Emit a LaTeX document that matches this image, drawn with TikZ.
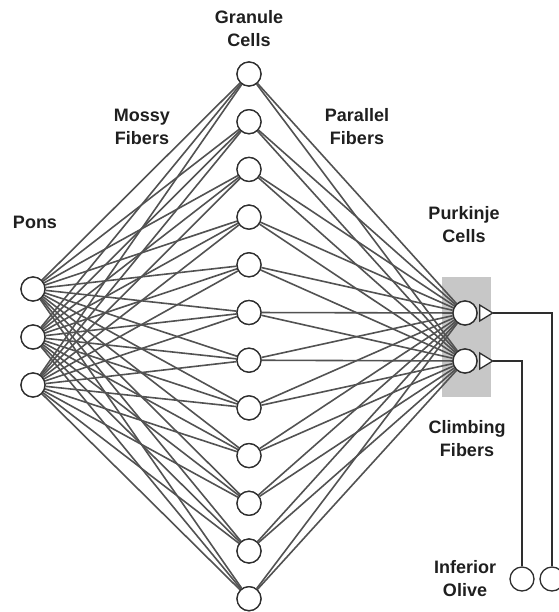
\documentclass[tikz,border=0pt]{standalone}
\usepackage{fontspec}
\setmainfont{Liberation Sans}
\begin{document}
\begin{tikzpicture}[x=1pt,y=-1pt,
  cell/.style={circle,draw=black!82,fill=white,line width=1.3pt,minimum size=24pt,inner sep=0pt},
  fiber/.style={draw=black!68,line width=1.6pt},
  axon/.style={draw=black!82,line width=1.3pt},
  lbl/.style={align=center,font=\fontsize{18}{23}\selectfont\bfseries,text=black!88,inner sep=0pt}]
\useasboundingbox (0,0) rectangle (558,612);

% shaded Purkinje region
\fill[black!22] (442,277) rectangle (491,397);

% Pons
\foreach \i/\y in {1/289,2/337,3/385}
  \node[cell] (p\i) at (33,\y) {};
% Granule cells
\foreach \i in {1,...,12}
  \node[cell] (g\i) at (249,{74+(\i-1)*47.7}) {};
% Purkinje cells
\node[cell] (k1) at (465,313) {};
\node[cell] (k2) at (465,361) {};
% Inferior olive
\node[cell] (o1) at (522,579) {};
\node[cell] (o2) at (552,579) {};

% mossy and parallel fibers
\foreach \i in {1,...,12}{
  \foreach \j in {1,2,3}
    \path[fiber] (p\j) -- (g\i);
  \foreach \j in {1,2}
    \path[fiber] (g\i) -- (k\j);
}

% redraw cells over the fibers
\foreach \i/\y in {1/289,2/337,3/385}
  \node[cell] at (33,\y) {};
\foreach \i in {1,...,12}
  \node[cell] at (249,{74+(\i-1)*47.7}) {};
\node[cell] at (465,313) {};
\node[cell] at (465,361) {};

% axon terminals and climbing fibers
\foreach \k in {1,2}{
  \draw[axon,fill=white] ([xshift=2pt]k\k.east) -- ++(0,-8) -- ++(13,8) coordinate (t\k) -- ++(-13,8) -- cycle;
}
\draw[axon] (t1) -| (o2.north);
\draw[axon] (t2) -| (o1.north);

% labels
\node[lbl] (lg) at (249,29) {Granule\\Cells};
\node[lbl] (lm) at (142,127) {Mossy\\Fibers};
\node[lbl] (lp) at (357,127) {Parallel\\Fibers};
\node[lbl] (lo) at (35,222) {Pons};
\node[lbl] (lk) at (464,225) {Purkinje\\Cells};
\node[lbl] (lc) at (467,439) {Climbing\\Fibers};
\node[lbl] (li) at (465,579) {Inferior\\Olive};
\end{tikzpicture}
\end{document}
